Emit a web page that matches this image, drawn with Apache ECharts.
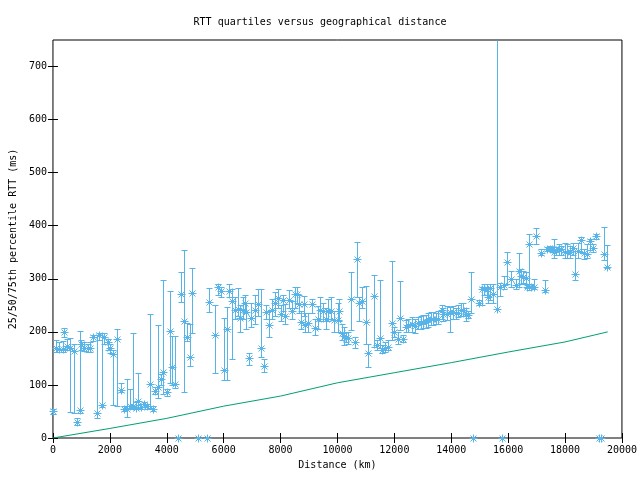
<!DOCTYPE html>
<html><head><meta charset="utf-8">
<script src="https://cdn.jsdelivr.net/npm/echarts@6/dist/echarts.min.js"></script>
<style>html,body{margin:0;padding:0;background:#fff}#c{width:640px;height:480px}</style>
</head><body><div id="c"></div>
<script>
// distance (km)
const distances = [10,105,222,339,398,491,608,725,830,947,982,1099,1216,1310,1415,1532,1626,1708,1801,1918,2012,2094,2246,2386,2503,2597,2714,2796,2913,2994,3088,3205,3298,3415,3520,3591,3696,3790,3883,4024,4117,4176,4293,4386,4492,4608,4714,4819,4889,5088,5404,5474,5685,5801,5919,6000,6117,6200,6293,6386,6492,6586,6679,6737,6797,6888,6972,7088,7204,7299,7415,7485,7579,7685,7790,7906,8000,8071,8165,8281,8398,8492,8573,8656,8726,8807,8867,8959,9099,9194,9310,9393,9485,9590,9685,9779,9895,10012,10071,10152,10246,10306,10387,10481,10622,10678,10773,10878,10994,11089,11275,11380,11499,11580,11674,11766,11906,12001,12117,12201,12293,12398,12492,12608,12727,12819,12938,13018,13099,13193,13288,13369,13464,13545,13661,13720,13836,13955,14071,14153,14247,14341,14422,14516,14574,14692,14773,14973,15065,15135,15240,15275,15359,15475,15591,15710,15800,15861,15977,16117,16292,16376,16446,16527,16622,16679,16750,16820,16914,16995,17170,17289,17381,17475,17546,17615,17696,17781,17872,17991,18082,18165,18281,18363,18457,18573,18667,18772,18867,18983,19079,19194,19252,19370,19486];
// 25th percentile RTT (ms)
const q25 = [45,163,165,162,191,165,49,47,24,47,166,164,163,162,183,37,185,59,178,165,160,62,60,86,50,40,56,55,55,62,54,58,55,57,50,83,75,100,82,80,103,100,95,0,256,87,183,136,197,0,0,237,122,270,265,110,110,265,148,225,230,200,225,235,205,138,210,215,230,152,125,225,190,225,230,245,220,240,215,245,225,245,255,235,205,230,200,200,235,195,205,220,220,205,220,225,200,200,220,185,175,180,178,203,170,265,220,245,177,134,172,165,169,160,163,165,185,190,178,203,180,200,200,200,198,205,205,208,208,210,212,212,214,214,225,220,222,200,225,225,228,230,230,220,226,235,0,250,250,270,270,255,260,255,243,268,0,280,290,285,280,285,290,292,290,282,279,282,280,365,345,275,352,352,352,340,345,345,345,340,340,340,345,298,340,350,338,340,355,350,375,0,0,335,320];
// median RTT (ms)
const q50 = [50,169,168,167,200,173,170,164,30,53,178,170,169,170,191,48,194,62,191,181,170,159,186,90,54,55,60,61,57,70,59,64,61,101,55,89,97,111,124,86,201,133,102,0,272,220,190,152,274,0,0,257,195,284,277,128,205,277,258,241,244,227,241,255,238,151,227,242,252,169,136,237,212,241,254,264,234,260,230,260,239,271,272,252,219,252,213,216,252,208,224,242,240,224,240,240,222,222,240,197,193,188,188,261,180,337,255,259,219,161,267,175,188,166,169,171,216,200,186,227,186,210,213,215,211,216,216,219,219,224,225,225,224,225,241,233,233,238,238,235,235,241,241,234,232,262,0,254,280,280,280,265,282,272,243,284,0,289,332,299,288,315,306,304,302,284,365,284,284,380,349,279,357,357,357,351,354,354,357,351,350,351,358,309,352,374,348,347,371,358,380,0,0,347,323];
// 75th percentile RTT (ms)
const q75 = [54,184,180,183,208,186,188,177,38,201,184,180,178,180,195,195,198,198,197,187,178,166,205,104,60,112,93,197,68,123,65,68,64,233,60,96,213,120,298,92,277,192,193,0,312,354,216,215,320,0,0,282,250,290,285,227,247,290,281,265,282,250,265,270,255,160,255,270,280,280,148,250,240,262,275,280,250,270,252,278,258,285,285,270,240,268,235,235,262,225,248,265,255,245,262,265,240,255,262,215,210,200,200,312,190,369,265,285,287,177,307,185,297,175,180,185,333,210,200,295,195,222,225,228,225,228,230,232,232,235,238,238,236,240,250,245,248,247,248,245,250,255,255,245,240,312,0,260,285,290,290,285,290,290,950,292,0,305,350,315,300,348,318,315,312,288,385,290,300,396,356,298,360,362,360,375,360,365,362,367,365,362,368,352,368,378,356,365,375,365,385,0,0,398,363];
// reference line (fibre speed-of-light bound)
const lineX = [0,2000,4000,6000,8000,10000,12000,14000,16000,18000,19500];
const lineY = [0,18,37,60,79,104,123,142,162,181,200];

const xTickValues = [0,2000,4000,6000,8000,10000,12000,14000,16000,18000,20000];
const yTickValues = [0,100,200,300,400,500,600,700];
const xRange = [0,20000];
const yRange = [0,750];

const FONT = 'DejaVu Sans Mono';
const BLUE = '#56b4e9';
const GREEN = '#009e73';

const bars = distances.map((d,i)=>[d,q25[i],q50[i],q75[i]]);
const lineData = lineX.map((x,i)=>[x,lineY[i]]);

function renderItem(params, api){
  const x = api.value(0), lo = api.value(1), med = api.value(2), hi = api.value(3);
  const top = api.coord([x, yRange[1]])[1];
  const pm = api.coord([x, med]);
  const cx = Math.round(pm[0]) + 0.5;
  const st = {stroke: BLUE, lineWidth: 1, fill: null};
  const ch = [];
  if (hi > lo) {
    const yl = Math.round(api.coord([x, lo])[1]) + 0.5;
    let yh = api.coord([x, hi])[1];
    const clipped = yh < top;
    yh = Math.round(Math.max(yh, top)) + 0.5;
    ch.push({type:'line', shape:{x1:cx,y1:yl,x2:cx,y2:yh}, style:st});
    ch.push({type:'line', shape:{x1:cx-3,y1:yl,x2:cx+3,y2:yl}, style:st});
    if (!clipped) ch.push({type:'line', shape:{x1:cx-3,y1:yh,x2:cx+3,y2:yh}, style:st});
  }
  const cy = Math.round(pm[1]) + 0.5;
  const r = 4, rd = 3;
  ch.push({type:'line', shape:{x1:cx-r,y1:cy,x2:cx+r,y2:cy}, style:st});
  ch.push({type:'line', shape:{x1:cx,y1:cy-r,x2:cx,y2:cy+r}, style:st});
  ch.push({type:'line', shape:{x1:cx-rd,y1:cy-rd,x2:cx+rd,y2:cy+rd}, style:st});
  ch.push({type:'line', shape:{x1:cx-rd,y1:cy+rd,x2:cx+rd,y2:cy-rd}, style:st});
  return {type:'group', children: ch};
}

const chart = echarts.init(document.getElementById('c'), null, {renderer:'canvas'});
const lbl = {fontFamily: FONT, fontSize: 10, color:'#000'};
const fmt = v => String(v);
const tick = (vals) => ({show:true, inside:true, length:5, lineStyle:{color:'#000'}, customValues: vals});
chart.setOption({
  animation:false,
  backgroundColor:'#fff',
  title:{text:'RTT quartiles versus geographical distance', left:'center', top:12,
    textStyle:{fontFamily:FONT, fontSize:10, fontWeight:'normal', color:'#000'}},
  grid:{left:52, right:18, top:40, bottom:42, show:true, borderColor:'#000', borderWidth:1, backgroundColor:'transparent'},
  xAxis:[
    {type:'value', min:xRange[0], max:xRange[1], position:'bottom',
     name:'Distance (km)', nameLocation:'middle', nameGap:22, nameTextStyle:lbl,
     axisLine:{show:false}, axisTick:tick(xTickValues),
     axisLabel:{...lbl, margin:7, formatter:fmt, customValues:xTickValues}, splitLine:{show:false}},
    {type:'value', min:xRange[0], max:xRange[1], position:'top',
     axisLine:{show:false}, axisTick:tick(xTickValues),
     axisLabel:{show:false}, splitLine:{show:false}}
  ],
  yAxis:[
    {type:'value', min:yRange[0], max:yRange[1], position:'left',
     name:'25/50/75th percentile RTT (ms)', nameLocation:'middle', nameGap:34, nameRotate:90, nameTextStyle:lbl,
     axisLine:{show:false}, axisTick:tick(yTickValues),
     axisLabel:{...lbl, margin:6, formatter:fmt, customValues:yTickValues}, splitLine:{show:false}},
    {type:'value', min:yRange[0], max:yRange[1], position:'right',
     axisLine:{show:false}, axisTick:tick(yTickValues),
     axisLabel:{show:false}, splitLine:{show:false}}
  ],
  series:[
    {type:'custom', renderItem, data:bars, xAxisIndex:0, yAxisIndex:0, encode:{x:0, y:[1,2,3]}, clip:false, z:2},
    {type:'line', data:lineData, xAxisIndex:0, yAxisIndex:0, showSymbol:false, symbol:'none',
     lineStyle:{color:GREEN, width:1}, z:3}
  ]
});
</script></body></html>
